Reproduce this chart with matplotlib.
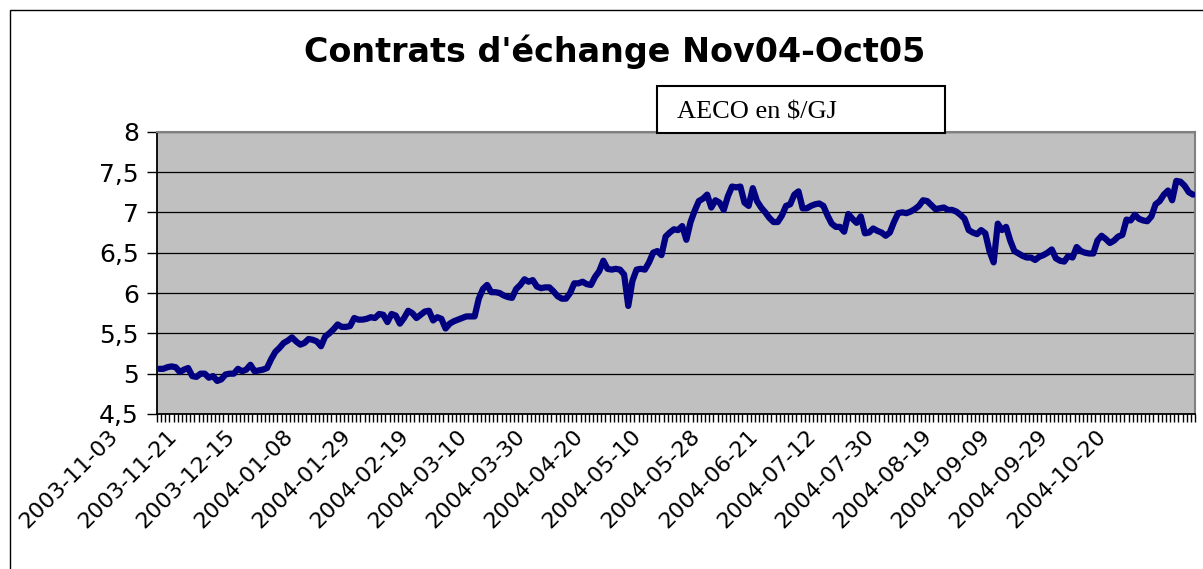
"""
Contrats d'echange Nov04-Oct05 : prix AECO en $/GJ (style graphique Excel).
"""

import matplotlib
matplotlib.use("Agg")
import matplotlib.pyplot as plt
import matplotlib.transforms as mtransforms
from matplotlib.patches import Rectangle
from matplotlib.ticker import FixedLocator, FuncFormatter, NullLocator

# ---------------------------------------------------------------------------
# Donnees
titre = "Contrats d'échange Nov04-Oct05"
legende = "AECO en $/GJ"

dates_affichees = [
    "2003-11-03", "2003-11-21", "2003-12-15", "2004-01-08", "2004-01-29",
    "2004-02-19", "2004-03-10", "2004-03-30", "2004-04-20", "2004-05-10",
    "2004-05-28", "2004-06-21", "2004-07-12", "2004-07-30", "2004-08-19",
    "2004-09-09", "2004-09-29", "2004-10-20",
]
pas_etiquettes = 14  # une etiquette toutes les 14 seances

prix = [
    5.06, 5.06, 5.08, 5.09, 5.08, 5.02, 5.05, 5.07, 4.97, 4.96,
    5.00, 5.00, 4.95, 4.97, 4.91, 4.93, 4.99, 5.00, 5.00, 5.06,
    5.03, 5.05, 5.11, 5.03, 5.04, 5.05, 5.07, 5.18, 5.27, 5.32,
    5.38, 5.41, 5.45, 5.40, 5.36, 5.38, 5.43, 5.42, 5.40, 5.34,
    5.46, 5.50, 5.55, 5.61, 5.58, 5.58, 5.59, 5.69, 5.67, 5.67,
    5.68, 5.70, 5.69, 5.74, 5.73, 5.64, 5.74, 5.72, 5.62, 5.69,
    5.78, 5.75, 5.69, 5.73, 5.77, 5.78, 5.66, 5.70, 5.68, 5.56,
    5.62, 5.65, 5.67, 5.69, 5.71, 5.71, 5.71, 5.93, 6.05, 6.10,
    6.01, 6.01, 6.00, 5.97, 5.95, 5.94, 6.05, 6.10, 6.17, 6.14,
    6.16, 6.08, 6.06, 6.07, 6.07, 6.02, 5.96, 5.93, 5.93, 6.00,
    6.12, 6.12, 6.14, 6.11, 6.10, 6.20, 6.27, 6.40, 6.30, 6.29,
    6.30, 6.29, 6.23, 5.84, 6.15, 6.29, 6.30, 6.29, 6.38, 6.50,
    6.52, 6.47, 6.70, 6.75, 6.79, 6.78, 6.83, 6.66, 6.88, 7.02,
    7.14, 7.17, 7.22, 7.06, 7.15, 7.12, 7.03, 7.20, 7.32, 7.31,
    7.32, 7.12, 7.08, 7.30, 7.14, 7.06, 7.00, 6.93, 6.88, 6.88,
    6.96, 7.08, 7.10, 7.22, 7.26, 7.05, 7.05, 7.08, 7.10, 7.11,
    7.08, 6.96, 6.86, 6.82, 6.82, 6.76, 6.98, 6.92, 6.87, 6.95,
    6.74, 6.75, 6.80, 6.77, 6.75, 6.71, 6.75, 6.88, 6.99, 7.00,
    6.99, 7.01, 7.04, 7.08, 7.15, 7.14, 7.09, 7.04, 7.05, 7.06,
    7.03, 7.03, 7.01, 6.97, 6.92, 6.78, 6.75, 6.73, 6.78, 6.74,
    6.52, 6.38, 6.86, 6.78, 6.82, 6.65, 6.52, 6.49, 6.46, 6.44,
    6.44, 6.41, 6.45, 6.47, 6.50, 6.54, 6.43, 6.40, 6.39, 6.46,
    6.44, 6.57, 6.52, 6.50, 6.49, 6.49, 6.65, 6.71, 6.67, 6.62,
    6.65, 6.70, 6.72, 6.91, 6.90, 6.97, 6.92, 6.90, 6.89, 6.95,
    7.10, 7.14, 7.22, 7.27, 7.15, 7.39, 7.38, 7.33, 7.25, 7.22,
]

y_ticks = [4.5, 5, 5.5, 6, 6.5, 7, 7.5, 8]

# ---------------------------------------------------------------------------
W, H = 1203, 569
fig = plt.figure(figsize=(W / 100, H / 100), dpi=100)
fig.patch.set_facecolor("white")

# zone de trace (en pixels du graphique d'origine)
x0, x1, y_top, y_bot = 157, 1195, 131.7, 414
ax = fig.add_axes([x0 / W, 1 - y_bot / H, (x1 - x0) / W, (y_bot - y_top) / H])
ax.set_facecolor("#C0C0C0")

n = len(prix)
ax.plot(range(n), prix, color="#000080", linewidth=4.5,
        solid_joinstyle="round", solid_capstyle="round", zorder=3)

# axe Y : virgule decimale
ax.yaxis.set_major_locator(FixedLocator(y_ticks))
ax.yaxis.set_major_formatter(
    FuncFormatter(lambda v, _: f"{v:g}".replace(".", ",")))
ax.grid(axis="y", color="black", linewidth=0.9)
ax.set_axisbelow(True)
ax.tick_params(axis="y", direction="out", length=7, width=1, pad=6,
               labelsize=18, labelfontfamily="DejaVu Sans")

# axe X : graduations entre categories
ax.xaxis.set_major_locator(NullLocator())
ax.set_xticks([i - 0.5 for i in range(n + 1)], minor=True)
ax.tick_params(axis="x", which="minor", direction="out", length=6, width=1)

ax.set_xlim(-0.5, n - 0.5)
ax.set_ylim(y_ticks[0], y_ticks[-1])

# etiquettes de dates inclinees, toutes les 14 seances ; Excel les decale
# vers la gauche par rapport a la seance
decalage = mtransforms.ScaledTranslation(-51 / 100, -12 / 100,
                                         fig.dpi_scale_trans)
trans_dates = ax.get_xaxis_transform() + decalage
for i, date in enumerate(dates_affichees):
    ax.text(i * pas_etiquettes, 0, date, transform=trans_dates,
            rotation=45, ha="right", va="top", rotation_mode="anchor",
            fontsize=16, family="DejaVu Sans", clip_on=False)

for cote in ("top", "right"):
    ax.spines[cote].set_color("#808080")
    ax.spines[cote].set_linewidth(1.5)
for cote in ("left", "bottom"):
    ax.spines[cote].set_color("black")
    ax.spines[cote].set_linewidth(1.3)

# titre
fig.text(615 / W, 1 - 52 / H, titre, ha="center", va="center",
         fontsize=24, fontweight="bold", family="DejaVu Sans")

# encadre de legende
fig.add_artist(Rectangle((657 / W, 1 - 133 / H), (945 - 657) / W, 47 / H,
                         transform=fig.transFigure, facecolor="white",
                         edgecolor="black", linewidth=1.5, zorder=5))
fig.text(677 / W, 1 - 112 / H, legende, ha="left", va="center",
         fontsize=19, family="Liberation Serif", zorder=6)

# cadre du graphique (bords droit et bas hors image)
fig.add_artist(Rectangle((10 / W, 1 - 590 / H), (1230 - 10) / W, 580 / H,
                         transform=fig.transFigure, facecolor="none",
                         edgecolor="black", linewidth=1, clip_on=False))

fig.savefig("out.png", dpi=100)
